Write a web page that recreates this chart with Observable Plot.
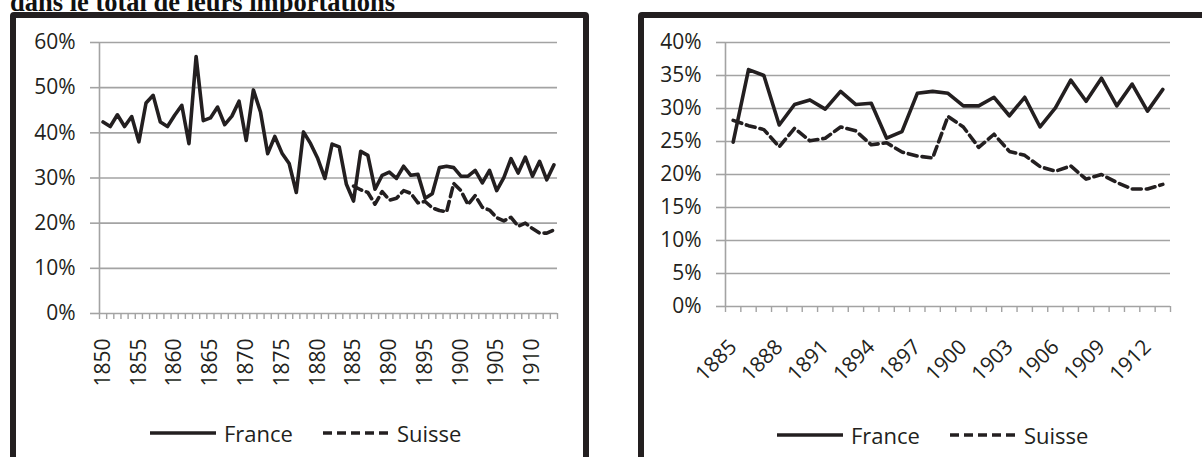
<!DOCTYPE html>
<html>
<head>
<meta charset="utf-8">
<script src="https://cdn.jsdelivr.net/npm/d3@7"></script>
<script src="https://cdn.jsdelivr.net/npm/@observablehq/plot@0.6"></script>
<style>
  html, body { margin: 0; padding: 0; background: #fff; }
  body { width: 1202px; height: 457px; overflow: hidden; position: relative; font-family: "Open Sans", sans-serif; color: #231f20; }
  .title { position: absolute; left: 10px; top: -11px; font-family: "Liberation Serif", "Times New Roman", serif; font-weight: bold; font-size: 26.5px; line-height: 26px; white-space: nowrap; color: #111; }
  .box { position: absolute; top: 12px; height: 480px; border: 6px solid #231f20; border-radius: 4px; box-sizing: border-box; }
  .chart { position: absolute; top: 0; }
  .legend { position: absolute; display: flex; align-items: center; font-size: 22px; color: #231f20; white-space: nowrap; }
  .legend svg { display: block; }
</style>
</head>
<body>
<div class="title">dans le total de leurs importations</div>
<div class="box" style="left:10px; width:579px;"></div>
<div class="box" style="left:638px; width:620px;"></div>
<div id="left" class="chart" style="left:0px;"></div>
<div id="right" class="chart" style="left:610px;"></div>
<div id="legL" class="legend" style="left:150px; top:418px;"></div>
<div id="legR" class="legend" style="left:777px; top:420px;"></div>
<script>
// ---- data (shares in %) ----
const firstYear = 1850;
const lastYear = 1913;
const suisseFirstYear = 1885;
const france = [
  42.4, 41.4, 44.0, 41.4, 43.6, 38.0, 46.6, 48.3, 42.4, 41.4,   // 1850-1859
  43.9, 46.1, 37.6, 56.9, 42.7, 43.3, 45.7, 41.8, 43.7, 47.0,   // 1860-1869
  38.3, 49.5, 44.6, 35.4, 39.2, 35.5, 33.2, 26.8, 40.2, 37.6,   // 1870-1879
  34.3, 29.9, 37.5, 36.9, 28.6, 24.9, 35.9, 35.0, 27.5, 30.6,   // 1880-1889
  31.3, 29.9, 32.6, 30.6, 30.8, 25.5, 26.5, 32.3, 32.6, 32.3,   // 1890-1899
  30.4, 30.4, 31.7, 28.9, 31.7, 27.2, 30.1, 34.3, 31.1, 34.6,   // 1900-1909
  30.4, 33.7, 29.6, 32.9                                         // 1910-1913
];
const suisse = [
  28.2, 27.4, 26.8, 24.2, 27.0, 25.1, 25.5, 27.2, 26.6, 24.5,   // 1885-1894
  24.8, 23.4, 22.8, 22.5, 28.8, 27.2, 24.1, 26.1, 23.5, 22.9,   // 1895-1904
  21.2, 20.5, 21.3, 19.3, 20.0, 18.8, 17.8, 17.8, 18.5          // 1905-1913
];
const leftYTicks = [0, 10, 20, 30, 40, 50, 60];
const rightYTicks = [0, 5, 10, 15, 20, 25, 30, 35, 40];
const leftXLabels = [1850, 1855, 1860, 1865, 1870, 1875, 1880, 1885, 1890, 1895, 1900, 1905, 1910];
const rightXLabels = [1885, 1888, 1891, 1894, 1897, 1900, 1903, 1906, 1909, 1912];
const seriesNames = ["France", "Suisse"];

// ---- build tables ----
const franceRows = france.map((v, i) => ({year: firstYear + i, value: v, series: "France"}));
const suisseRows = suisse.map((v, i) => ({year: suisseFirstYear + i, value: v, series: "Suisse"}));

const ink = "#231f20";
const gridColor = "#a3a3a3";
const dash = "9,5";
const pct = d => d + "%";

function panel(opts) {
  const {y0, y1, yTicks, xLabels, width, height, margins, rotate, labelPad} = opts;
  const bounds = d3.range(y0, y1 + 2).map(y => y - 0.5);
  const fr = franceRows.filter(d => d.year >= y0 && d.year <= y1);
  const su = suisseRows.filter(d => d.year >= y0 && d.year <= y1);
  return Plot.plot({
    width, height,
    ...margins,
    style: {background: "transparent", fontFamily: "Open Sans", fontSize: "21px", color: ink, overflow: "visible"},
    x: {type: "linear", domain: [y0 - 0.5, y1 + 0.5], label: null},
    y: {domain: [0, d3.max(yTicks)], label: null},
    marks: [
      Plot.gridY(yTicks, {stroke: gridColor, strokeOpacity: 1, strokeWidth: 1.6}),
      Plot.axisY(yTicks, {tickSize: 9, tickPadding: 15, stroke: gridColor, strokeWidth: 1.6, fill: ink, tickFormat: pct, label: null}),
      Plot.ruleX([y0 - 0.5], {stroke: gridColor, strokeWidth: 1.6}),
      Plot.axisX(bounds, {tickSize: 6, stroke: gridColor, strokeWidth: 1.4, tickFormat: () => "", label: null}),
      Plot.axisX(xLabels, {tickSize: 0, tickPadding: labelPad, tickRotate: rotate, fill: ink, tickFormat: d => String(d), label: null}),
      Plot.line(su, {x: "year", y: "value", stroke: ink, strokeWidth: 3.6, strokeDasharray: dash}),
      Plot.line(fr, {x: "year", y: "value", stroke: ink, strokeWidth: 3.6})
    ]
  });
}

document.getElementById("left").append(panel({
  y0: firstYear, y1: lastYear, yTicks: leftYTicks, xLabels: leftXLabels,
  width: 600, height: 380,
  margins: {marginLeft: 99, marginRight: 43, marginTop: 42, marginBottom: 67},
  rotate: -90, labelPad: 25
}));
document.getElementById("right").append(panel({
  y0: suisseFirstYear, y1: lastYear, yTicks: rightYTicks, xLabels: rightXLabels,
  width: 592, height: 380,
  margins: {marginLeft: 115, marginRight: 32, marginTop: 42, marginBottom: 74},
  rotate: -45, labelPad: 37
}));

function legend(el, lineLen, gap) {
  seriesNames.forEach((name, i) => {
    const sw = document.createElementNS("http://www.w3.org/2000/svg", "svg");
    sw.setAttribute("width", lineLen);
    sw.setAttribute("height", 10);
    const ln = document.createElementNS("http://www.w3.org/2000/svg", "line");
    ln.setAttribute("x1", 0); ln.setAttribute("x2", lineLen);
    ln.setAttribute("y1", 5); ln.setAttribute("y2", 5);
    ln.setAttribute("stroke", ink); ln.setAttribute("stroke-width", 3.6);
    if (name === "Suisse") ln.setAttribute("stroke-dasharray", dash);
    sw.append(ln);
    const sp = document.createElement("span");
    sp.textContent = name;
    sp.style.marginLeft = "8px";
    if (i === 0) sp.style.marginRight = gap + "px";
    el.append(sw, sp);
  });
}
legend(document.getElementById("legL"), 66, 30);
legend(document.getElementById("legR"), 66, 30);
</script>
</body>
</html>
